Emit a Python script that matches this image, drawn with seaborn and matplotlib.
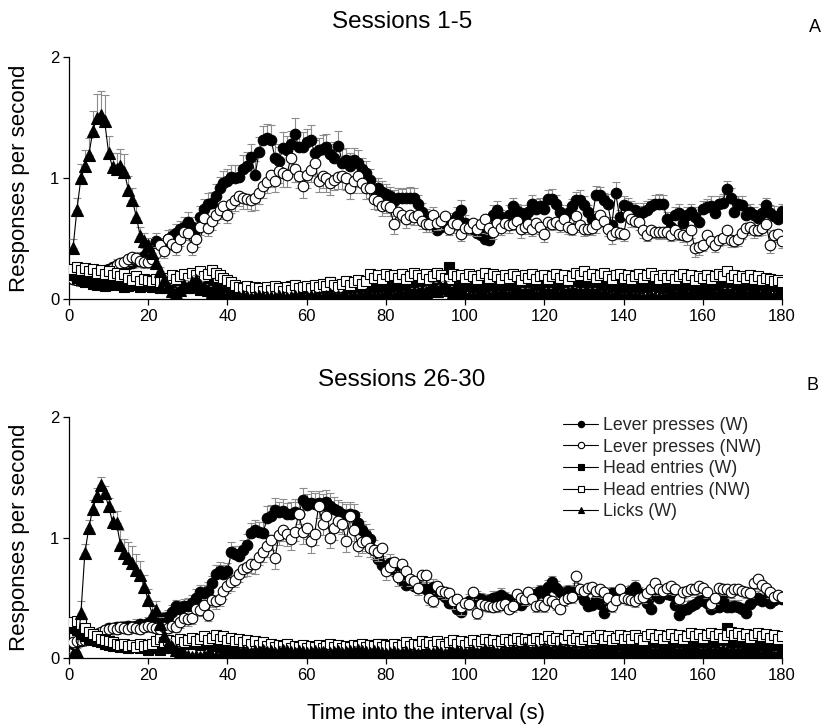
import numpy as np
import matplotlib
matplotlib.use("Agg")
import matplotlib.pyplot as plt
from matplotlib.lines import Line2D
import seaborn as sns

# ---------------- data (time bins 1..180 s) ----------------
TIME = list(range(1, 181))

# Panel A: Sessions 1-5
LP_W_A = [0.17,0.16,0.15,0.15,0.16,0.17,0.18,0.20,0.22,0.25,
          0.27,0.28,0.28,0.27,0.29,0.30,0.31,0.33,0.36,0.38,
          0.42,0.48,0.45,0.44,0.50,0.52,0.55,0.58,0.60,0.64,
          0.60,0.56,0.68,0.75,0.79,0.80,0.85,0.92,0.96,0.98,
          1.01,1.00,1.01,1.08,1.10,1.18,1.03,1.22,1.32,1.33,
          1.32,1.17,1.14,1.25,1.23,1.28,1.37,1.26,1.26,1.30,
          1.32,1.21,1.23,1.24,1.26,1.20,1.17,1.27,1.13,1.15,
          1.10,1.15,1.13,1.08,1.04,0.99,0.89,0.92,0.89,0.87,
          0.85,0.81,0.84,0.84,0.84,0.84,0.84,0.79,0.72,0.68,
          0.66,0.68,0.57,0.60,0.62,0.63,0.65,0.69,0.74,0.63,
          0.60,0.58,0.55,0.53,0.50,0.49,0.70,0.74,0.68,0.63,
          0.70,0.77,0.73,0.71,0.67,0.72,0.79,0.75,0.77,0.75,
          0.83,0.83,0.79,0.72,0.66,0.71,0.77,0.82,0.82,0.78,
          0.72,0.66,0.86,0.86,0.82,0.79,0.61,0.88,0.68,0.78,
          0.76,0.74,0.74,0.70,0.72,0.74,0.77,0.79,0.79,0.79,
          0.66,0.60,0.70,0.71,0.63,0.70,0.72,0.68,0.64,0.75,
          0.76,0.77,0.71,0.79,0.80,0.91,0.84,0.72,0.79,0.78,
          0.70,0.72,0.70,0.67,0.71,0.78,0.71,0.69,0.66,0.73]
LP_W_A_SEM = [0.03,0.03,0.03,0.03,0.03,0.04,0.04,0.04,0.04,0.04,
              0.04,0.05,0.04,0.05,0.05,0.05,0.05,0.06,0.06,0.06,
              0.06,0.07,0.06,0.07,0.07,0.06,0.07,0.07,0.08,0.08,
              0.08,0.08,0.09,0.08,0.09,0.09,0.10,0.09,0.10,0.10,
              0.10,0.11,0.10,0.11,0.12,0.10,0.11,0.12,0.11,0.12,
              0.12,0.11,0.12,0.13,0.12,0.11,0.13,0.12,0.12,0.11,
              0.12,0.11,0.10,0.12,0.11,0.10,0.11,0.12,0.11,0.10,
              0.11,0.10,0.10,0.09,0.10,0.09,0.09,0.08,0.09,0.08,
              0.08,0.09,0.08,0.07,0.08,0.09,0.08,0.07,0.08,0.07,
              0.07,0.08,0.06,0.07,0.08,0.07,0.06,0.07,0.08,0.07,
              0.06,0.07,0.08,0.06,0.07,0.06,0.08,0.07,0.06,0.07,
              0.08,0.07,0.06,0.07,0.08,0.06,0.07,0.08,0.07,0.06,
              0.07,0.08,0.07,0.06,0.08,0.07,0.06,0.07,0.08,0.07,
              0.06,0.07,0.08,0.07,0.06,0.08,0.07,0.09,0.06,0.07,
              0.08,0.07,0.06,0.07,0.08,0.07,0.06,0.07,0.08,0.07,
              0.06,0.07,0.06,0.08,0.07,0.06,0.07,0.08,0.07,0.06,
              0.07,0.08,0.07,0.06,0.07,0.07,0.08,0.07,0.06,0.07,
              0.08,0.07,0.06,0.07,0.08,0.06,0.07,0.08,0.07,0.06]
LP_NW_A = [0.17,0.16,0.16,0.15,0.16,0.18,0.19,0.21,0.23,0.24,
           0.26,0.28,0.30,0.31,0.33,0.35,0.34,0.32,0.31,0.31,
           0.33,0.38,0.45,0.40,0.50,0.46,0.43,0.50,0.56,0.55,
           0.43,0.50,0.60,0.67,0.59,0.65,0.70,0.74,0.77,0.70,
           0.79,0.82,0.85,0.84,0.83,0.82,0.84,0.88,0.94,0.97,
           1.03,0.98,1.06,1.04,1.03,1.17,1.08,1.02,0.94,1.03,
           1.07,1.13,0.98,1.02,1.00,0.96,0.99,1.01,1.02,1.00,
           0.92,0.98,1.02,0.96,0.92,0.92,0.83,0.81,0.77,0.78,
           0.76,0.62,0.72,0.70,0.66,0.70,0.68,0.70,0.65,0.62,
           0.62,0.70,0.63,0.65,0.69,0.58,0.63,0.62,0.54,0.59,
           0.59,0.63,0.58,0.62,0.66,0.59,0.56,0.63,0.59,0.63,
           0.61,0.62,0.65,0.58,0.60,0.62,0.58,0.63,0.60,0.54,
           0.64,0.62,0.64,0.61,0.66,0.60,0.58,0.69,0.61,0.58,
           0.58,0.59,0.62,0.70,0.65,0.58,0.53,0.56,0.55,0.54,
           0.70,0.66,0.65,0.64,0.57,0.53,0.57,0.56,0.56,0.56,
           0.56,0.53,0.57,0.54,0.53,0.52,0.57,0.42,0.43,0.45,
           0.53,0.48,0.45,0.49,0.51,0.57,0.49,0.48,0.50,0.55,
           0.59,0.60,0.57,0.57,0.59,0.62,0.45,0.53,0.54,0.48]
LP_NW_A_SEM = [0.03,0.03,0.03,0.03,0.03,0.03,0.04,0.04,0.04,0.04,
               0.04,0.04,0.05,0.04,0.05,0.05,0.04,0.05,0.05,0.05,
               0.05,0.06,0.05,0.06,0.06,0.05,0.06,0.06,0.07,0.06,
               0.06,0.07,0.07,0.06,0.07,0.08,0.07,0.08,0.08,0.07,
               0.08,0.09,0.08,0.09,0.08,0.09,0.10,0.09,0.10,0.09,
               0.10,0.09,0.10,0.11,0.10,0.09,0.11,0.10,0.10,0.11,
               0.10,0.11,0.09,0.10,0.11,0.10,0.09,0.10,0.11,0.10,
               0.09,0.10,0.09,0.08,0.09,0.08,0.08,0.07,0.08,0.07,
               0.07,0.08,0.07,0.06,0.07,0.08,0.07,0.06,0.07,0.06,
               0.06,0.07,0.06,0.07,0.06,0.05,0.06,0.07,0.06,0.05,
               0.06,0.05,0.06,0.07,0.06,0.05,0.06,0.07,0.06,0.05,
               0.06,0.05,0.06,0.07,0.06,0.05,0.06,0.05,0.06,0.07,
               0.06,0.05,0.06,0.05,0.07,0.06,0.05,0.06,0.05,0.06,
               0.05,0.06,0.07,0.06,0.05,0.06,0.07,0.06,0.05,0.06,
               0.05,0.06,0.05,0.07,0.06,0.05,0.06,0.05,0.06,0.05,
               0.06,0.05,0.06,0.05,0.06,0.07,0.06,0.07,0.06,0.05,
               0.06,0.05,0.06,0.05,0.06,0.05,0.06,0.05,0.06,0.05,
               0.06,0.05,0.06,0.05,0.06,0.05,0.07,0.06,0.05,0.06]
HE_W_A = [0.20,0.18,0.16,0.14,0.15,0.13,0.12,0.14,0.11,0.12,
          0.13,0.15,0.12,0.10,0.11,0.13,0.12,0.10,0.11,0.12,
          0.10,0.11,0.09,0.12,0.13,0.10,0.08,0.10,0.12,0.09,
          0.10,0.11,0.08,0.09,0.12,0.10,0.07,0.08,0.10,0.09,
          0.07,0.09,0.06,0.08,0.10,0.07,0.09,0.08,0.06,0.08,
          0.09,0.07,0.10,0.08,0.09,0.11,0.08,0.07,0.09,0.10,
          0.08,0.10,0.09,0.12,0.11,0.14,0.09,0.10,0.08,0.11,
          0.09,0.10,0.12,0.08,0.10,0.11,0.09,0.13,0.10,0.12,
          0.11,0.09,0.13,0.10,0.12,0.14,0.11,0.10,0.19,0.12,
          0.10,0.13,0.11,0.14,0.12,0.27,0.12,0.10,0.13,0.11,
          0.12,0.10,0.14,0.11,0.09,0.12,0.13,0.10,0.11,0.12,
          0.13,0.11,0.10,0.12,0.14,0.11,0.09,0.12,0.13,0.10,
          0.11,0.12,0.10,0.13,0.11,0.09,0.12,0.10,0.11,0.13,
          0.12,0.10,0.09,0.12,0.11,0.13,0.10,0.12,0.09,0.11,
          0.10,0.12,0.11,0.09,0.13,0.10,0.11,0.12,0.10,0.09,
          0.11,0.13,0.10,0.12,0.09,0.11,0.10,0.12,0.11,0.13,
          0.10,0.12,0.11,0.14,0.12,0.10,0.13,0.11,0.12,0.10,
          0.09,0.11,0.10,0.12,0.13,0.10,0.11,0.12,0.10,0.13]
HE_NW_A = [0.25,0.27,0.24,0.26,0.23,0.25,0.22,0.24,0.21,0.23,
           0.20,0.22,0.19,0.21,0.18,0.16,0.19,0.15,0.17,0.16,
           0.15,0.17,0.14,0.16,0.18,0.20,0.17,0.19,0.21,0.18,
           0.22,0.20,0.23,0.19,0.21,0.24,0.22,0.20,0.18,0.16,
           0.14,0.12,0.10,0.09,0.11,0.08,0.10,0.09,0.07,0.10,
           0.08,0.11,0.09,0.07,0.10,0.08,0.12,0.09,0.10,0.11,
           0.09,0.12,0.10,0.13,0.11,0.14,0.12,0.10,0.13,0.15,
           0.12,0.14,0.16,0.13,0.15,0.21,0.18,0.20,0.17,0.21,
           0.19,0.20,0.18,0.21,0.17,0.19,0.22,0.20,0.18,0.21,
           0.17,0.19,0.22,0.20,0.18,0.17,0.21,0.19,0.20,0.18,
           0.21,0.19,0.17,0.20,0.22,0.18,0.21,0.19,0.17,0.20,
           0.18,0.21,0.19,0.16,0.20,0.18,0.21,0.17,0.19,0.20,
           0.17,0.19,0.21,0.18,0.20,0.16,0.19,0.22,0.20,0.23,
           0.19,0.21,0.18,0.20,0.22,0.19,0.17,0.20,0.21,0.18,
           0.20,0.17,0.19,0.21,0.18,0.20,0.22,0.19,0.17,0.20,
           0.18,0.20,0.17,0.19,0.21,0.18,0.20,0.16,0.19,0.18,
           0.20,0.17,0.19,0.21,0.19,0.23,0.18,0.20,0.17,0.19,
           0.18,0.20,0.17,0.19,0.16,0.18,0.17,0.15,0.16,0.14]
LICK_A = [0.42,0.74,1.00,1.10,1.19,1.39,1.50,1.52,1.47,1.21,
          1.09,1.08,1.10,1.05,0.90,0.82,0.68,0.52,0.48,0.45,
          0.38,0.30,0.23,0.16,0.10,0.07,0.05,0.08,0.12,0.10,
          0.14,0.16,0.12,0.10,0.08,0.06,0.05,0.04,0.03,0.02,
          0.02,0.01,0.02,0.03,0.02,0.01,0.02,0.03,0.02,0.02,
          0.02,0.01,0.03,0.02,0.01,0.02,0.03,0.02,0.01,0.02,
          0.03,0.02,0.02,0.01,0.03,0.04,0.02,0.03,0.02,0.01,
          0.02,0.03,0.01,0.02,0.04,0.03,0.02,0.03,0.02,0.04,
          0.03,0.02,0.04,0.03,0.05,0.04,0.06,0.05,0.07,0.06,
          0.08,0.10,0.07,0.09,0.11,0.08,0.06,0.05,0.04,0.03,
          0.03,0.02,0.03,0.04,0.03,0.02,0.04,0.03,0.05,0.04,
          0.03,0.05,0.04,0.03,0.06,0.04,0.05,0.03,0.04,0.05,
          0.06,0.04,0.05,0.03,0.04,0.06,0.07,0.05,0.06,0.04,
          0.05,0.06,0.04,0.03,0.05,0.03,0.02,0.04,0.03,0.02,
          0.03,0.02,0.03,0.02,0.01,0.02,0.03,0.02,0.01,0.02,
          0.03,0.04,0.03,0.05,0.04,0.03,0.05,0.04,0.03,0.04,
          0.05,0.04,0.03,0.05,0.04,0.06,0.04,0.03,0.05,0.04,
          0.03,0.05,0.04,0.03,0.04,0.05,0.03,0.02,0.04,0.03]
LICK_A_SEM = [0.08,0.10,0.12,0.13,0.14,0.17,0.20,0.20,0.22,0.14,
              0.12,0.13,0.14,0.15,0.12,0.10,0.09,0.08,0.07,0.06,
              0.05,0.05,0.04,0.04,0.03,0.02,0.02,0.03,0.04,0.03,
              0.04,0.04,0.03,0.03,0.03,0.02,0.02,0.02,0.02,0.01,
              0.01,0.01,0.01,0.02,0.01,0.01,0.01,0.02,0.01,0.01,
              0.01,0.01,0.02,0.01,0.01,0.01,0.02,0.01,0.01,0.01,
              0.02,0.01,0.01,0.01,0.02,0.02,0.01,0.02,0.01,0.01,
              0.01,0.02,0.01,0.01,0.02,0.02,0.01,0.02,0.01,0.02,
              0.02,0.01,0.02,0.02,0.02,0.02,0.03,0.02,0.03,0.03,
              0.03,0.04,0.03,0.03,0.04,0.03,0.02,0.02,0.02,0.02,
              0.02,0.01,0.02,0.02,0.02,0.01,0.02,0.02,0.02,0.02,
              0.02,0.02,0.02,0.02,0.03,0.02,0.02,0.02,0.02,0.02,
              0.03,0.02,0.02,0.02,0.02,0.03,0.03,0.02,0.03,0.02,
              0.02,0.03,0.02,0.02,0.02,0.02,0.01,0.02,0.02,0.01,
              0.02,0.01,0.02,0.01,0.01,0.01,0.02,0.01,0.01,0.01,
              0.02,0.02,0.02,0.02,0.02,0.02,0.02,0.02,0.02,0.02,
              0.02,0.02,0.02,0.02,0.02,0.03,0.02,0.02,0.02,0.02,
              0.02,0.02,0.02,0.02,0.02,0.02,0.02,0.01,0.02,0.02]

# Panel B: Sessions 26-30
LP_W_B = [0.12,0.13,0.14,0.15,0.17,0.19,0.20,0.21,0.23,0.25,
          0.24,0.26,0.25,0.26,0.27,0.26,0.27,0.28,0.27,0.29,
          0.30,0.34,0.32,0.33,0.34,0.38,0.43,0.41,0.43,0.43,
          0.46,0.50,0.55,0.54,0.56,0.62,0.70,0.72,0.70,0.72,
          0.88,0.86,0.85,0.90,0.94,1.04,1.06,1.05,1.04,1.16,
          1.18,1.23,1.21,1.22,1.20,1.20,1.21,1.20,1.31,1.27,
          1.29,1.28,1.29,1.27,1.30,1.26,1.24,1.22,1.20,1.19,
          1.20,1.19,1.12,1.06,1.02,0.99,0.90,0.82,0.77,0.73,
          0.79,0.72,0.68,0.64,0.61,0.63,0.60,0.58,0.59,0.57,
          0.55,0.59,0.56,0.53,0.51,0.46,0.45,0.41,0.38,0.44,
          0.47,0.48,0.50,0.49,0.47,0.48,0.50,0.51,0.52,0.50,
          0.48,0.46,0.45,0.44,0.47,0.50,0.52,0.53,0.56,0.54,
          0.59,0.63,0.58,0.55,0.54,0.56,0.55,0.53,0.54,0.48,
          0.43,0.44,0.48,0.45,0.37,0.48,0.54,0.51,0.50,0.52,
          0.54,0.56,0.59,0.54,0.50,0.46,0.41,0.52,0.50,0.54,
          0.53,0.52,0.44,0.36,0.40,0.41,0.43,0.45,0.47,0.48,
          0.46,0.41,0.42,0.42,0.48,0.42,0.42,0.43,0.42,0.41,
          0.37,0.45,0.48,0.50,0.47,0.49,0.46,0.48,0.50,0.49]
LP_W_B_SEM = [0.03,0.03,0.03,0.03,0.03,0.03,0.04,0.04,0.04,0.04,
              0.04,0.04,0.04,0.05,0.04,0.05,0.05,0.04,0.05,0.05,
              0.05,0.05,0.06,0.05,0.06,0.06,0.05,0.06,0.06,0.07,
              0.06,0.07,0.06,0.07,0.07,0.06,0.07,0.08,0.07,0.07,
              0.08,0.07,0.08,0.08,0.09,0.08,0.09,0.08,0.09,0.10,
              0.09,0.10,0.09,0.10,0.09,0.10,0.11,0.10,0.10,0.09,
              0.10,0.09,0.10,0.09,0.10,0.11,0.10,0.09,0.10,0.09,
              0.10,0.09,0.09,0.08,0.09,0.08,0.08,0.07,0.08,0.07,
              0.07,0.08,0.07,0.06,0.07,0.06,0.07,0.06,0.07,0.06,
              0.06,0.07,0.06,0.05,0.06,0.07,0.06,0.05,0.06,0.05,
              0.06,0.05,0.06,0.05,0.06,0.05,0.06,0.05,0.06,0.05,
              0.05,0.06,0.05,0.06,0.05,0.06,0.05,0.06,0.05,0.06,
              0.06,0.05,0.06,0.05,0.06,0.05,0.06,0.05,0.06,0.05,
              0.05,0.06,0.05,0.06,0.05,0.06,0.05,0.06,0.05,0.06,
              0.06,0.05,0.06,0.05,0.06,0.05,0.06,0.05,0.06,0.05,
              0.05,0.06,0.05,0.06,0.05,0.06,0.05,0.06,0.05,0.06,
              0.06,0.05,0.06,0.05,0.06,0.05,0.06,0.05,0.06,0.05,
              0.05,0.06,0.05,0.06,0.05,0.06,0.05,0.06,0.05,0.06]
LP_NW_B = [0.13,0.14,0.15,0.15,0.17,0.18,0.20,0.22,0.23,0.24,
           0.25,0.24,0.26,0.25,0.24,0.26,0.25,0.24,0.26,0.27,
           0.26,0.25,0.24,0.26,0.25,0.27,0.26,0.30,0.33,0.32,
           0.33,0.41,0.40,0.44,0.36,0.48,0.47,0.49,0.56,0.60,
           0.63,0.65,0.70,0.74,0.76,0.78,0.78,0.84,0.88,0.93,
           0.98,0.83,1.02,1.06,1.03,0.99,1.05,1.20,1.05,1.08,
           0.97,1.03,1.26,1.11,1.18,1.00,1.08,1.14,1.11,0.97,
           1.18,1.06,0.93,0.96,0.97,0.91,0.90,0.88,0.91,0.72,
           0.76,0.80,0.67,0.78,0.72,0.66,0.64,0.58,0.69,0.69,
           0.50,0.47,0.60,0.56,0.55,0.54,0.47,0.49,0.42,0.46,
           0.45,0.55,0.37,0.45,0.44,0.43,0.42,0.43,0.44,0.45,
           0.41,0.43,0.53,0.50,0.49,0.55,0.49,0.43,0.44,0.43,
           0.48,0.47,0.45,0.41,0.48,0.50,0.51,0.68,0.57,0.56,
           0.58,0.59,0.56,0.57,0.55,0.50,0.43,0.48,0.57,0.50,
           0.49,0.48,0.47,0.50,0.51,0.54,0.57,0.62,0.57,0.56,
           0.58,0.60,0.57,0.49,0.55,0.56,0.57,0.57,0.60,0.58,
           0.55,0.45,0.50,0.58,0.57,0.57,0.55,0.57,0.57,0.56,
           0.55,0.54,0.62,0.66,0.61,0.58,0.55,0.51,0.52,0.51]
LP_NW_B_SEM = [0.03,0.03,0.03,0.03,0.03,0.03,0.03,0.04,0.04,0.04,
               0.04,0.04,0.04,0.04,0.04,0.04,0.04,0.04,0.04,0.04,
               0.04,0.04,0.04,0.05,0.04,0.05,0.04,0.05,0.05,0.05,
               0.05,0.06,0.05,0.06,0.05,0.06,0.06,0.06,0.07,0.06,
               0.07,0.06,0.07,0.07,0.08,0.07,0.08,0.07,0.08,0.09,
               0.08,0.09,0.08,0.09,0.10,0.09,0.08,0.09,0.10,0.09,
               0.10,0.09,0.10,0.09,0.10,0.09,0.10,0.09,0.08,0.09,
               0.10,0.09,0.08,0.09,0.08,0.07,0.08,0.07,0.08,0.07,
               0.07,0.08,0.07,0.06,0.07,0.06,0.07,0.06,0.07,0.06,
               0.06,0.05,0.06,0.05,0.06,0.05,0.06,0.05,0.06,0.05,
               0.05,0.06,0.05,0.06,0.05,0.05,0.04,0.05,0.04,0.05,
               0.04,0.05,0.05,0.04,0.05,0.05,0.04,0.05,0.04,0.05,
               0.05,0.04,0.05,0.04,0.05,0.04,0.05,0.06,0.05,0.04,
               0.05,0.04,0.05,0.04,0.05,0.04,0.05,0.04,0.05,0.04,
               0.05,0.04,0.05,0.04,0.05,0.04,0.05,0.04,0.05,0.04,
               0.05,0.04,0.05,0.04,0.05,0.04,0.05,0.04,0.05,0.04,
               0.05,0.04,0.05,0.04,0.05,0.04,0.05,0.04,0.05,0.04,
               0.05,0.04,0.05,0.04,0.05,0.04,0.05,0.04,0.05,0.04]
HE_W_B = [0.25,0.23,0.20,0.18,0.16,0.15,0.14,0.13,0.12,0.11,
          0.10,0.11,0.09,0.10,0.08,0.09,0.10,0.08,0.09,0.07,
          0.08,0.09,0.07,0.08,0.10,0.09,0.11,0.10,0.12,0.13,
          0.12,0.14,0.11,0.13,0.12,0.10,0.11,0.09,0.10,0.08,
          0.09,0.07,0.08,0.06,0.08,0.07,0.09,0.06,0.08,0.07,
          0.06,0.08,0.07,0.09,0.06,0.08,0.07,0.06,0.08,0.07,
          0.09,0.08,0.06,0.07,0.09,0.08,0.07,0.10,0.08,0.09,
          0.08,0.10,0.09,0.07,0.11,0.09,0.08,0.10,0.12,0.09,
          0.10,0.08,0.11,0.09,0.12,0.10,0.09,0.11,0.10,0.08,
          0.09,0.11,0.10,0.12,0.09,0.11,0.10,0.13,0.11,0.09,
          0.10,0.12,0.11,0.09,0.10,0.12,0.11,0.10,0.13,0.11,
          0.09,0.11,0.10,0.12,0.10,0.11,0.09,0.12,0.10,0.11,
          0.12,0.10,0.13,0.11,0.09,0.12,0.10,0.11,0.13,0.10,
          0.11,0.09,0.12,0.10,0.11,0.13,0.10,0.12,0.09,0.11,
          0.10,0.12,0.11,0.13,0.10,0.12,0.11,0.09,0.12,0.10,
          0.11,0.13,0.10,0.12,0.11,0.09,0.12,0.14,0.11,0.13,
          0.12,0.14,0.11,0.13,0.15,0.25,0.13,0.12,0.14,0.11,
          0.12,0.10,0.13,0.11,0.12,0.10,0.13,0.11,0.12,0.10]
HE_NW_B = [0.30,0.31,0.28,0.25,0.22,0.20,0.18,0.16,0.15,0.14,
           0.13,0.12,0.11,0.12,0.10,0.11,0.09,0.12,0.10,0.11,
           0.12,0.14,0.16,0.13,0.15,0.12,0.14,0.16,0.13,0.15,
           0.17,0.14,0.16,0.18,0.15,0.17,0.19,0.16,0.18,0.15,
           0.17,0.14,0.16,0.13,0.15,0.12,0.14,0.11,0.13,0.10,
           0.12,0.09,0.11,0.10,0.12,0.08,0.10,0.09,0.11,0.08,
           0.10,0.09,0.11,0.08,0.10,0.12,0.09,0.11,0.08,0.10,
           0.09,0.11,0.10,0.12,0.09,0.11,0.10,0.12,0.09,0.11,
           0.10,0.12,0.09,0.11,0.13,0.10,0.12,0.11,0.14,0.12,
           0.13,0.11,0.14,0.12,0.10,0.13,0.15,0.12,0.14,0.11,
           0.13,0.15,0.12,0.14,0.16,0.13,0.15,0.12,0.14,0.16,
           0.13,0.15,0.17,0.14,0.16,0.13,0.15,0.17,0.14,0.16,
           0.18,0.15,0.17,0.14,0.16,0.19,0.15,0.17,0.14,0.16,
           0.18,0.15,0.17,0.19,0.16,0.18,0.15,0.17,0.19,0.16,
           0.18,0.16,0.19,0.17,0.15,0.18,0.20,0.17,0.19,0.16,
           0.18,0.20,0.17,0.19,0.16,0.18,0.21,0.18,0.20,0.17,
           0.19,0.21,0.18,0.20,0.17,0.19,0.22,0.19,0.21,0.18,
           0.20,0.17,0.19,0.21,0.18,0.20,0.17,0.19,0.16,0.18]
LICK_B = [0.03,0.05,0.37,0.87,1.08,1.24,1.35,1.44,1.37,1.26,
          1.13,1.12,0.94,0.87,0.83,0.79,0.73,0.69,0.59,0.48,
          0.36,0.40,0.28,0.18,0.12,0.09,0.07,0.05,0.03,0.02,
          0.01,0.02,0.01,0.02,0.03,0.02,0.01,0.02,0.03,0.04,
          0.03,0.05,0.04,0.06,0.05,0.04,0.06,0.05,0.07,0.05,
          0.06,0.04,0.05,0.07,0.06,0.05,0.04,0.06,0.05,0.04,
          0.05,0.06,0.04,0.05,0.03,0.04,0.05,0.06,0.04,0.05,
          0.06,0.05,0.07,0.06,0.05,0.04,0.06,0.05,0.04,0.03,
          0.04,0.05,0.03,0.04,0.05,0.03,0.04,0.03,0.02,0.04,
          0.03,0.04,0.05,0.04,0.03,0.05,0.04,0.06,0.05,0.04,
          0.05,0.06,0.04,0.05,0.07,0.05,0.06,0.04,0.05,0.06,
          0.05,0.07,0.06,0.05,0.08,0.06,0.05,0.07,0.06,0.08,
          0.07,0.05,0.06,0.08,0.06,0.07,0.05,0.06,0.04,0.05,
          0.04,0.06,0.05,0.03,0.04,0.05,0.03,0.04,0.02,0.03,
          0.04,0.03,0.05,0.04,0.03,0.05,0.04,0.06,0.05,0.04,
          0.05,0.03,0.04,0.06,0.05,0.04,0.03,0.05,0.04,0.06,
          0.05,0.04,0.06,0.05,0.07,0.06,0.05,0.04,0.06,0.05,
          0.04,0.05,0.03,0.04,0.02,0.03,0.04,0.02,0.03,0.02]
LICK_B_SEM = [0.02,0.03,0.10,0.08,0.07,0.07,0.06,0.06,0.06,0.07,
              0.08,0.10,0.12,0.12,0.13,0.14,0.13,0.12,0.10,0.09,
              0.08,0.07,0.06,0.05,0.04,0.03,0.02,0.02,0.02,0.01,
              0.01,0.01,0.01,0.01,0.02,0.01,0.01,0.01,0.02,0.02,
              0.02,0.02,0.02,0.02,0.02,0.02,0.02,0.02,0.03,0.02,
              0.02,0.02,0.02,0.03,0.02,0.02,0.02,0.02,0.02,0.02,
              0.02,0.02,0.02,0.02,0.01,0.02,0.02,0.02,0.02,0.02,
              0.02,0.02,0.03,0.02,0.02,0.02,0.02,0.02,0.02,0.01,
              0.02,0.02,0.01,0.02,0.02,0.01,0.02,0.01,0.01,0.02,
              0.01,0.02,0.02,0.02,0.01,0.02,0.02,0.02,0.02,0.02,
              0.02,0.02,0.02,0.02,0.03,0.02,0.02,0.02,0.02,0.02,
              0.02,0.03,0.02,0.02,0.03,0.02,0.02,0.03,0.02,0.03,
              0.03,0.02,0.02,0.03,0.02,0.03,0.02,0.02,0.02,0.02,
              0.02,0.02,0.02,0.01,0.02,0.02,0.01,0.02,0.01,0.01,
              0.02,0.01,0.02,0.02,0.01,0.02,0.02,0.02,0.02,0.02,
              0.02,0.01,0.02,0.02,0.02,0.02,0.01,0.02,0.02,0.02,
              0.02,0.02,0.02,0.02,0.03,0.02,0.02,0.02,0.02,0.02,
              0.02,0.02,0.01,0.02,0.01,0.01,0.02,0.01,0.01,0.01]

LABELS = ["Lever presses (W)", "Lever presses (NW)", "Head entries (W)",
          "Head entries (NW)", "Licks (W)"]
TITLES = ["Sessions 1-5", "Sessions 26-30"]
PANEL_TAGS = ["A", "B"]
X_TICKS = list(range(0, 181, 20))
Y_TICKS = [0, 1, 2]

# ---------------- styling ----------------
sns.set_theme(style="white")
plt.rcParams["font.family"] = ["Liberation Sans", "DejaVu Sans"]
plt.rcParams["axes.unicode_minus"] = False

STYLES = [
    dict(marker="o", mfc="black", ms=7.6),
    dict(marker="o", mfc="white", ms=7.6),
    dict(marker="s", mfc="black", ms=7.0),
    dict(marker="s", mfc="white", ms=7.0),
    dict(marker="^", mfc="black", ms=8.0),
]
ERR_GREY = "#8c8c8c"

fig = plt.figure(figsize=(8.23, 7.27), dpi=100)
W, H = 823.0, 727.0
ax_top = fig.add_axes([69 / W, 1 - 299.3 / H, (782 - 69) / W, (299.3 - 57.3) / H])
ax_bot = fig.add_axes([69 / W, 1 - 658 / H, (782 - 69) / W, (658 - 417.3) / H])

panels = [
    (ax_top, [LP_W_A, LP_NW_A, HE_W_A, HE_NW_A, LICK_A],
     [(LP_W_A_SEM, "up"), (LP_NW_A_SEM, "down"), None, None, (LICK_A_SEM, "up")]),
    (ax_bot, [LP_W_B, LP_NW_B, HE_W_B, HE_NW_B, LICK_B],
     [(LP_W_B_SEM, "up"), (LP_NW_B_SEM, "down"), None, None, (LICK_B_SEM, "up")]),
]

t = np.array(TIME, dtype=float)
for ax, series, errs in panels:
    for i, (vals, err, st) in enumerate(zip(series, errs, STYLES)):
        v = np.array(vals, dtype=float)
        z = 2 + 2 * i
        if err is not None:
            sem = np.array(err[0], dtype=float)
            zeros = np.zeros_like(sem)
            yerr = [zeros, sem] if err[1] == "up" else [sem, zeros]
            ax.errorbar(t, v, yerr=yerr, fmt="none", ecolor=ERR_GREY,
                        elinewidth=0.8, capsize=2.6, capthick=0.8, zorder=z)
        sns.lineplot(x=t, y=v, ax=ax, color="black", linewidth=0.8,
                     marker=st["marker"], markersize=st["ms"],
                     markerfacecolor=st["mfc"], markeredgecolor="black",
                     markeredgewidth=0.8, zorder=z + 1, legend=False)
    ax.set_xlim(0, 180)
    ax.set_ylim(0, 2)
    ax.set_xticks(X_TICKS)
    ax.set_yticks(Y_TICKS)
    ax.set_xlabel("")
    ax.set_ylabel("")
    for s in ["top", "right"]:
        ax.spines[s].set_visible(False)
    for s in ["left", "bottom"]:
        ax.spines[s].set_color("black")
        ax.spines[s].set_linewidth(0.9)
    ax.tick_params(axis="both", direction="out", length=4, width=0.9,
                   colors="black", labelsize=12, pad=3,
                   bottom=True, left=True)
    ax.set_facecolor("none")
    for lab in ax.get_xticklabels() + ax.get_yticklabels():
        lab.set_color("black")

# titles and panel tags
fig.text(402 / W, 1 - 22 / H, TITLES[0], ha="center", va="center", fontsize=17.5, color="black")
fig.text(402 / W, 1 - 380 / H, TITLES[1], ha="center", va="center", fontsize=17.5, color="black")
fig.text(815 / W, 1 - 28 / H, PANEL_TAGS[0], ha="center", va="center", fontsize=13, color="black")
fig.text(812 / W, 1 - 386 / H, PANEL_TAGS[1], ha="center", va="center", fontsize=13, color="black")

# axis labels
fig.text(20 / W, 1 - 178 / H, "Responses per second", rotation=90,
         ha="center", va="center", fontsize=16, color="black")
fig.text(20 / W, 1 - 537 / H, "Responses per second", rotation=90,
         ha="center", va="center", fontsize=16, color="black")
fig.text(426 / W, 1 - 714 / H, "Time into the interval (s)",
         ha="center", va="center", fontsize=16, color="black")

# legend (bottom panel)
handles = []
for st, lab in zip(STYLES, LABELS):
    handles.append(Line2D([0], [0], color="black", linewidth=0.8,
                          marker=st["marker"], markersize=st["ms"] * 0.6,
                          markerfacecolor=st["mfc"], markeredgecolor="black",
                          markeredgewidth=0.8, label=lab))
fig.legend(handles=handles, loc="upper left",
           bbox_to_anchor=(563 / W, 1 - 417 / H), frameon=False,
           fontsize=12.8, handlelength=1.97, handletextpad=0.28,
           labelspacing=0.26, borderpad=0, borderaxespad=0)

fig.savefig("out.png", dpi=100)
